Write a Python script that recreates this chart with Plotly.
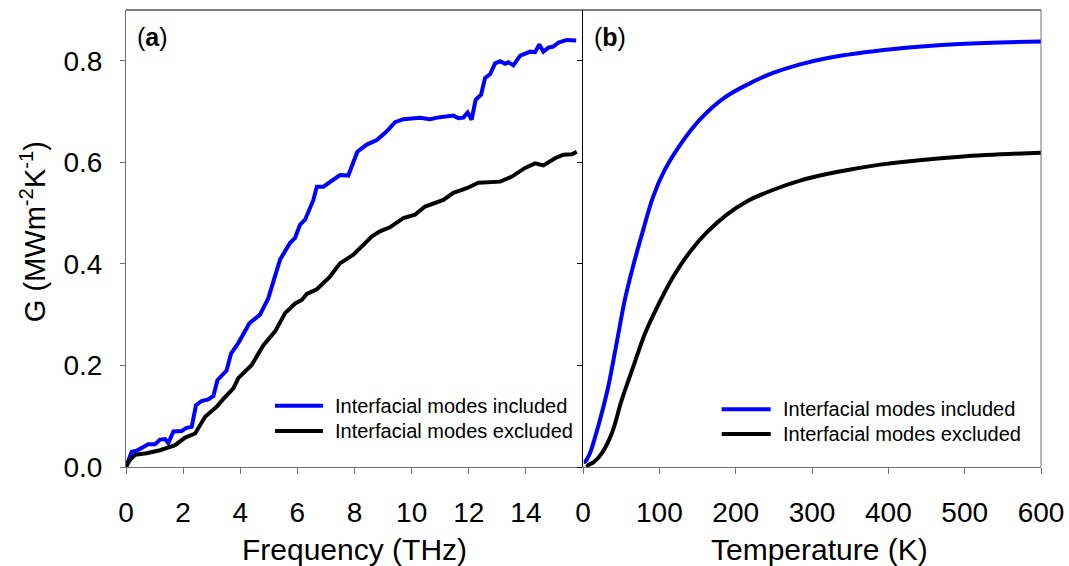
import plotly.graph_objects as go

# ---------------- data ----------------
# Panel (a): cumulative G vs frequency
freq_inc = [0.0, 0.2, 0.37, 0.61, 0.78, 1.02, 1.19, 1.37, 1.48, 1.66, 1.95, 2.12, 2.30, 2.45, 2.65,
            2.88, 3.06, 3.20, 3.52, 3.68, 3.93, 4.32, 4.69, 4.98, 5.28, 5.39, 5.74, 5.92, 6.09, 6.27,
            6.56, 6.68, 6.91, 7.30, 7.49, 7.78, 8.10, 8.43, 8.78, 9.13, 9.42, 9.71, 10.29, 10.64,
            10.99, 11.46, 11.64, 11.81, 11.96, 12.10, 12.24, 12.43, 12.57, 12.75, 12.92, 13.10,
            13.27, 13.39, 13.56, 13.80, 13.97, 14.15, 14.32, 14.47, 14.61, 14.79, 14.96, 15.14,
            15.43, 15.76]
g_inc_a = [0.0, 0.030, 0.032, 0.040, 0.045, 0.045, 0.054, 0.055, 0.047, 0.070, 0.071, 0.077, 0.079,
           0.122, 0.130, 0.133, 0.140, 0.171, 0.190, 0.224, 0.244, 0.283, 0.300, 0.332, 0.385, 0.408,
           0.441, 0.451, 0.477, 0.487, 0.526, 0.552, 0.552, 0.568, 0.575, 0.574, 0.621, 0.635, 0.644,
           0.661, 0.679, 0.685, 0.688, 0.685, 0.689, 0.692, 0.687, 0.688, 0.698, 0.684, 0.723, 0.733,
           0.766, 0.774, 0.795, 0.799, 0.794, 0.797, 0.791, 0.810, 0.813, 0.818, 0.817, 0.832, 0.818,
           0.826, 0.828, 0.836, 0.841, 0.840]

freq_exc = [0.0, 0.14, 0.32, 0.72, 1.19, 1.72, 2.07, 2.42, 2.77, 3.18, 3.41, 3.76, 3.93, 4.40, 4.81,
            5.22, 5.57, 5.92, 6.15, 6.33, 6.68, 7.14, 7.49, 7.96, 8.60, 8.89, 9.24, 9.71, 10.12,
            10.47, 11.11, 11.46, 11.93, 12.34, 13.10, 13.51, 13.97, 14.32, 14.61, 15.02, 15.31,
            15.61, 15.78]
g_exc_a = [0.0, 0.014, 0.024, 0.027, 0.033, 0.043, 0.058, 0.066, 0.099, 0.119, 0.134, 0.155, 0.175,
           0.201, 0.240, 0.267, 0.303, 0.322, 0.329, 0.341, 0.350, 0.375, 0.401, 0.418, 0.454, 0.464,
           0.472, 0.490, 0.497, 0.513, 0.526, 0.540, 0.549, 0.560, 0.562, 0.572, 0.589, 0.598, 0.594,
           0.608, 0.615, 0.616, 0.621]

# Panel (b): G vs temperature
temp_inc = [1, 3, 9, 16, 24.5, 33, 44, 55, 66, 79, 92, 107, 127, 153, 184, 219, 249, 282, 319,
            407, 494, 600]
g_inc_b = [0.010, 0.011, 0.027, 0.060, 0.106, 0.158, 0.244, 0.331, 0.398, 0.468, 0.533, 0.585,
           0.634, 0.684, 0.726, 0.756, 0.776, 0.792, 0.805, 0.823, 0.833, 0.838]

temp_exc = [5, 7, 13.5, 24.5, 37.6, 50.7, 65.9, 81.2, 96.5, 118.3, 140.2, 162.1, 188.3, 214.5,
            249.4, 284.3, 319.3, 354.2, 387.0, 494.0, 600.0]
g_exc_b = [0.0, 0.004, 0.009, 0.027, 0.066, 0.132, 0.198, 0.263, 0.313, 0.375, 0.424, 0.462, 0.497,
           0.523, 0.546, 0.564, 0.577, 0.587, 0.595, 0.611, 0.619]

freq_ticks = [0, 2, 4, 6, 8, 10, 12, 14]
temp_ticks = [0, 100, 200, 300, 400, 500, 600]
g_ticks = [0.0, 0.2, 0.4, 0.6, 0.8]
g_ticktext = ["0.0", "0.2", "0.4", "0.6", "0.8"]

label_inc = "Interfacial modes included"
label_exc = "Interfacial modes excluded"

# ---------------- styling ----------------
FONT = "Arial, 'Liberation Sans', Helvetica, sans-serif"
BLUE = "#0000ff"
BLACK = "#000000"
AXGRAY = "#707070"
LW = 4

fig = go.Figure()
fig.add_trace(go.Scatter(x=freq_inc, y=g_inc_a, mode="lines", line=dict(color=BLUE, width=LW),
                         name=label_inc, showlegend=False, xaxis="x", yaxis="y"))
fig.add_trace(go.Scatter(x=freq_exc, y=g_exc_a, mode="lines", line=dict(color=BLACK, width=LW),
                         name=label_exc, showlegend=False, xaxis="x", yaxis="y"))
fig.add_trace(go.Scatter(x=temp_inc, y=g_inc_b, mode="lines",
                         line=dict(color=BLUE, width=LW, shape="spline", smoothing=1.0),
                         name=label_inc, showlegend=False, xaxis="x2", yaxis="y2"))
fig.add_trace(go.Scatter(x=temp_exc, y=g_exc_b, mode="lines",
                         line=dict(color=BLACK, width=LW, shape="spline", smoothing=1.0),
                         name=label_exc, showlegend=False, xaxis="x2", yaxis="y2"))

split = 0.4995
common_x = dict(ticks="outside", ticklen=6, tickcolor=AXGRAY, showline=True, linecolor=AXGRAY,
                linewidth=1, showgrid=False, zeroline=False, tickfont=dict(size=28, color="black"),
                ticklabelstandoff=14, automargin=False)
common_y = dict(range=[0, 0.9], tickvals=g_ticks, ticktext=g_ticktext, ticks="outside", ticklen=5,
                showgrid=False, zeroline=False, showline=True, linewidth=1, automargin=False,
                tickfont=dict(size=28, color="black"))

fig.update_layout(
    width=1069, height=566,
    margin=dict(l=126, r=28, t=10, b=99, autoexpand=False),
    paper_bgcolor="white", plot_bgcolor="white",
    font=dict(family=FONT, color="black"),
    showlegend=False,
    xaxis=dict(domain=[0, split], range=[0, 16], tickvals=freq_ticks, anchor="y", **common_x),
    xaxis2=dict(domain=[split, 1], range=[0, 600], tickvals=temp_ticks, anchor="y2", **common_x),
    yaxis=dict(domain=[0, 1], anchor="x", linecolor=AXGRAY, tickcolor=AXGRAY,
               ticklabelstandoff=12, **common_y),
    yaxis2=dict(domain=[0, 1], anchor="x2", linecolor=BLACK, tickcolor=BLACK,
                showticklabels=False, **common_y),
)

# frame: top and right edges
fig.add_shape(type="line", xref="paper", yref="paper", x0=0, x1=1, y0=1, y1=1,
              line=dict(color=BLACK, width=1))
fig.add_shape(type="line", xref="paper", yref="paper", x0=1, x1=1, y0=0, y1=1,
              line=dict(color=AXGRAY, width=1))

# axis titles
fig.add_annotation(text="G (MWm<sup>-2</sup>K<sup>-1</sup>)", textangle=-90, xref="paper",
                   yref="paper", x=-0.1016, y=0.514, xanchor="center", yanchor="middle",
                   showarrow=False, font=dict(size=29))
fig.add_annotation(text="Frequency (THz)", xref="paper", yref="paper", x=0.25, y=-0.1816,
                   xanchor="center", yanchor="middle", showarrow=False, font=dict(size=30))
fig.add_annotation(text="Temperature (K)", xref="paper", yref="paper", x=0.758, y=-0.1816,
                   xanchor="center", yanchor="middle", showarrow=False, font=dict(size=30))

# panel labels
fig.add_annotation(text="(<b>a</b>)", xref="paper", yref="paper", x=0.0098, y=0.941,
                   xanchor="left", yanchor="middle", showarrow=False, font=dict(size=25))
fig.add_annotation(text="(<b>b</b>)", xref="paper", yref="paper", x=0.509, y=0.941,
                   xanchor="left", yanchor="middle", showarrow=False, font=dict(size=25))

# legends (one per panel)
legends = [
    (0.1628, 0.2153, 0.2262, 0.134, 0.0788),
    (0.651, 0.7046, 0.7158, 0.1263, 0.0722),
]
for x0, x1, xt, y1, y2 in legends:
    for yy, col, lab in ((y1, BLUE, label_inc), (y2, BLACK, label_exc)):
        fig.add_shape(type="line", xref="paper", yref="paper", x0=x0, x1=x1, y0=yy, y1=yy,
                      line=dict(color=col, width=LW))
        fig.add_annotation(text=lab, xref="paper", yref="paper", x=xt, y=yy, xanchor="left",
                           yanchor="middle", showarrow=False, font=dict(size=20))

fig.write_html("out.html")
